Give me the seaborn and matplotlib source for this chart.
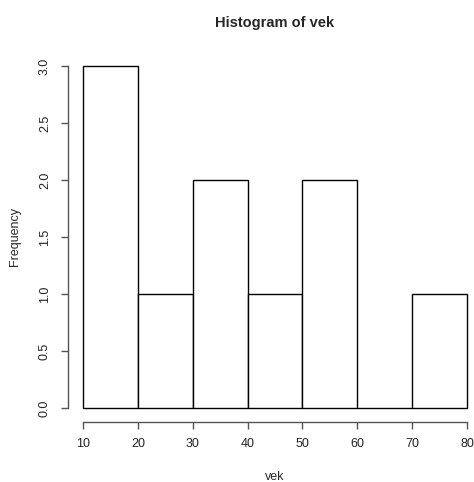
import numpy as np
import seaborn as sns
import matplotlib.pyplot as plt

# histogram of vek (counts)
bin_edges = [10, 20, 30, 40, 50, 60, 70, 80]
counts = [3, 1, 2, 1, 2, 0, 1]
bin_mids = [(a + b) / 2 for a, b in zip(bin_edges[:-1], bin_edges[1:])]
x_ticks = [10, 20, 30, 40, 50, 60, 70, 80]
y_ticks = [0.0, 0.5, 1.0, 1.5, 2.0, 2.5, 3.0]

sns.set_style("white")
plt.rcParams['font.family'] = ['Liberation Sans', 'DejaVu Sans']

fig = plt.figure(figsize=(4.74, 4.82), dpi=100)
ax = fig.add_axes([0.1426, 0.1251, 0.875, 0.7664])

sns.histplot(x=bin_mids, weights=counts, bins=bin_edges, ax=ax,
             color="white", edgecolor="black", linewidth=1.0, alpha=1)

ax.set_xlim(7.2, 82.8)
ax.set_ylim(-0.12, 3.12)

for s in ["top", "right"]:
    ax.spines[s].set_visible(False)
ax.spines["left"].set_bounds(0, 3)
ax.spines["bottom"].set_bounds(10, 80)
for s in ["left", "bottom"]:
    ax.spines[s].set_color("#555555")
    ax.spines[s].set_linewidth(1.0)

ax.set_xticks(x_ticks)
ax.set_yticks(y_ticks)
ax.set_yticklabels([f"{v:.1f}" for v in y_ticks], rotation=90, va="center")
ax.tick_params(axis="both", bottom=True, left=True, direction="out",
               length=5, width=1.0, color="#555555", labelsize=9,
               labelcolor="#222222")
ax.tick_params(axis="x", pad=7)
ax.tick_params(axis="y", pad=7)

ax.set_title("Histogram of vek", fontsize=10.5, fontweight="bold", pad=18)
ax.set_xlabel("vek", fontsize=9, labelpad=15)
ax.set_ylabel("Frequency", fontsize=9, labelpad=13)

fig.savefig("out.png", dpi=100)
